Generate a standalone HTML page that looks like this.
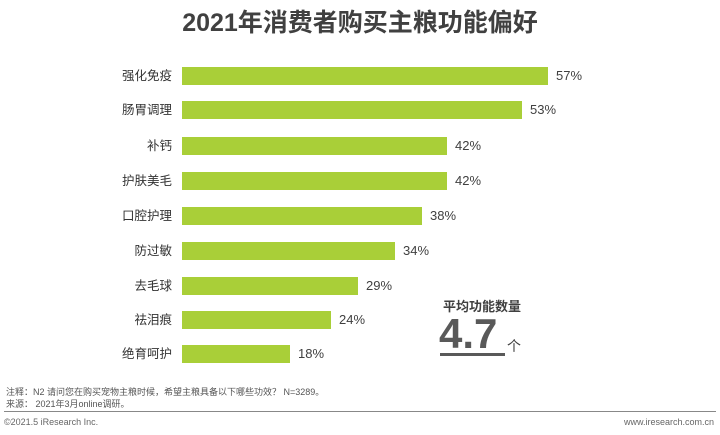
<!DOCTYPE html>
<html><head><meta charset="utf-8"><style>
body{margin:0;width:720px;height:435px;background:#fff;font-family:"Liberation Sans","Noto Sans CJK SC",sans-serif;position:relative;overflow:hidden}
.t{position:absolute;white-space:nowrap}
.bar{position:absolute;left:182px;height:18px;background:#a9cf38}
.lab{position:absolute;right:548px;font-size:12.5px;line-height:18px;color:#333;white-space:nowrap;text-align:right}
.val{position:absolute;font-size:13px;line-height:18px;color:#404040}
</style></head><body>
<div class="t" style="left:0;width:720px;top:6px;line-height:34px;text-align:center;font-size:25px;font-weight:bold;color:#404040">2021年消费者购买主粮功能偏好</div>

<div class="bar" style="top:67px;width:366px"></div><div class="lab" style="top:67px">强化免疫</div><div class="val" style="left:556px;top:67px">57%</div>
<div class="bar" style="top:101px;width:340px"></div><div class="lab" style="top:101px">肠胃调理</div><div class="val" style="left:530px;top:101px">53%</div>
<div class="bar" style="top:137px;width:265px"></div><div class="lab" style="top:137px">补钙</div><div class="val" style="left:455px;top:137px">42%</div>
<div class="bar" style="top:172px;width:265px"></div><div class="lab" style="top:172px">护肤美毛</div><div class="val" style="left:455px;top:172px">42%</div>
<div class="bar" style="top:207px;width:240px"></div><div class="lab" style="top:207px">口腔护理</div><div class="val" style="left:430px;top:207px">38%</div>
<div class="bar" style="top:242px;width:213px"></div><div class="lab" style="top:242px">防过敏</div><div class="val" style="left:403px;top:242px">34%</div>
<div class="bar" style="top:277px;width:176px"></div><div class="lab" style="top:277px">去毛球</div><div class="val" style="left:366px;top:277px">29%</div>
<div class="bar" style="top:311px;width:149px"></div><div class="lab" style="top:311px">祛泪痕</div><div class="val" style="left:339px;top:311px">24%</div>
<div class="bar" style="top:345px;width:108px"></div><div class="lab" style="top:345px">绝育呵护</div><div class="val" style="left:298px;top:345px">18%</div>

<div class="t" style="left:443px;top:299px;line-height:16px;font-size:13px;font-weight:bold;color:#404040">平均功能数量</div>
<div class="t" style="left:439px;top:316px;font-size:42px;font-weight:bold;color:#595959;line-height:36px">4.7</div>
<div style="position:absolute;left:440px;top:353px;width:65px;height:3px;background:#595959"></div>
<div class="t" style="left:507px;top:338px;line-height:16px;font-size:14px;color:#404040">个</div>

<div class="t" style="left:6px;top:386px;line-height:12px;font-size:9px;color:#555">注释：N2 请问您在购买宠物主粮时候，希望主粮具备以下哪些功效？ N=3289。</div>
<div class="t" style="left:6px;top:398px;line-height:12px;font-size:9px;color:#555">来源： 2021年3月online调研。</div>
<div style="position:absolute;left:4px;top:411px;width:712px;height:1px;background:#888"></div>
<div class="t" style="left:4px;top:416px;line-height:12px;font-size:9px;color:#666">©2021.5 iResearch Inc.</div>
<div class="t" style="right:6px;top:416px;line-height:12px;font-size:9px;color:#666">www.iresearch.com.cn</div>
</body></html>
